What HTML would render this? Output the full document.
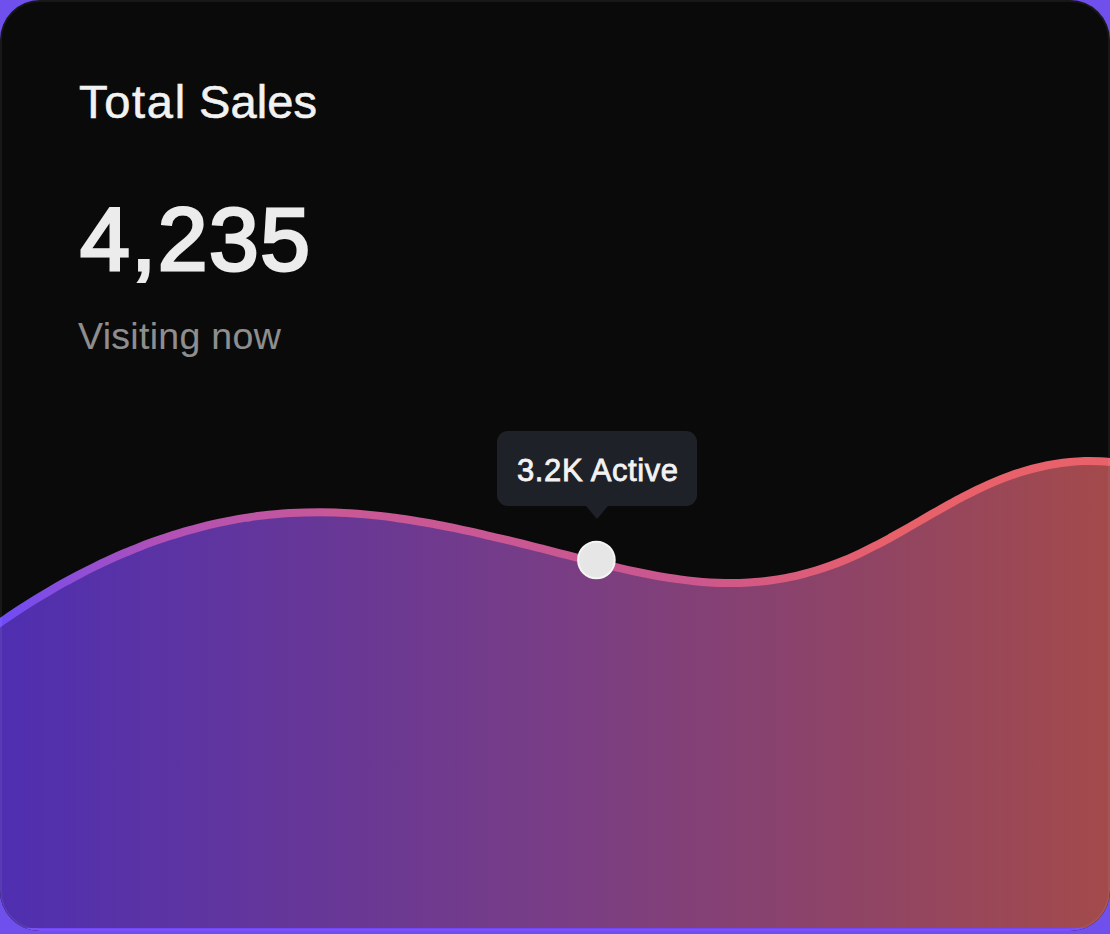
<!DOCTYPE html>
<html><head><meta charset="utf-8">
<style>
html,body{margin:0;padding:0;}
body{width:1110px;height:934px;background:#7050ed;overflow:hidden;position:relative;font-family:"Liberation Sans",sans-serif;}
.card{position:absolute;left:0;top:0;width:1110px;height:931px;border-radius:40px;background:#0a0a0a;overflow:hidden;}
.band{position:absolute;left:0;top:927.7px;width:1110px;height:4px;background:#7348f8;}
.border{position:absolute;left:0;top:0;width:1110px;height:931px;border-radius:40px;box-sizing:border-box;border:2.5px solid rgba(255,255,255,0.06);}
svg{position:absolute;left:0;top:0;}
.t1{position:absolute;left:79px;top:78px;font-size:47px;letter-spacing:1.7px;color:#f2f2f2;white-space:nowrap;line-height:1;-webkit-text-stroke:0.6px #f2f2f2;}
.t2{position:absolute;left:80px;top:195px;font-size:89.5px;letter-spacing:1.5px;color:#ececec;white-space:nowrap;line-height:1;-webkit-text-stroke:3px #ececec;}
.t3{position:absolute;left:78px;top:318px;font-size:37.5px;letter-spacing:0.3px;color:#8e8e8e;white-space:nowrap;line-height:1;-webkit-text-stroke:0.1px #8e8e8e;}
.tip{position:absolute;left:496.5px;top:431px;width:200.5px;height:75px;border-radius:11px;background:#1f2128;}
.tip:after{content:"";position:absolute;left:89.5px;top:74.5px;width:0;height:0;border-left:11.7px solid transparent;border-right:11.7px solid transparent;border-top:13px solid #1f2128;}
.tt{position:absolute;left:517px;top:455px;font-size:31px;letter-spacing:0.6px;color:#f2f2f2;white-space:nowrap;line-height:1;-webkit-text-stroke:0.8px #f2f2f2;}
</style></head><body>
<div class="card">
<svg width="1110" height="927.7" viewBox="0 0 1110 927.7">
<defs>
<linearGradient id="fg" x1="0" y1="0" x2="1110" y2="0" gradientUnits="userSpaceOnUse">
<stop offset="0" stop-color="#4f2fb0"/>
<stop offset="0.5" stop-color="#783d85"/>
<stop offset="1" stop-color="#a34a4b"/>
</linearGradient>
<linearGradient id="sg" x1="0" y1="0" x2="1110" y2="0" gradientUnits="userSpaceOnUse">
<stop offset="0" stop-color="#6e4cf6"/>
<stop offset="0.14" stop-color="#b050b8"/>
<stop offset="0.3" stop-color="#c95896"/>
<stop offset="0.62" stop-color="#cb578f"/>
<stop offset="0.8" stop-color="#e8606a"/>
<stop offset="1" stop-color="#e9626a"/>
</linearGradient>
</defs>
<path d="M-10.0,629.8 C-7.5,628.0 0.0,622.7 5.0,619.3 C10.0,615.8 15.0,612.5 20.0,609.2 C25.0,606.0 30.0,602.8 35.0,599.7 C40.0,596.6 45.0,593.6 50.0,590.7 C55.0,587.7 60.0,584.9 65.0,582.1 C70.0,579.3 75.0,576.7 80.0,574.1 C85.0,571.4 90.0,568.9 95.0,566.5 C100.0,564.0 105.0,561.7 110.0,559.4 C115.0,557.1 120.0,554.9 125.0,552.8 C130.0,550.7 135.0,548.7 140.0,546.7 C145.0,544.8 150.0,542.9 155.0,541.1 C160.0,539.4 165.0,537.7 170.0,536.0 C175.0,534.4 180.0,532.9 185.0,531.4 C190.0,530.0 195.0,528.6 200.0,527.3 C205.0,526.0 210.0,524.8 215.0,523.7 C220.0,522.6 225.0,521.5 230.0,520.6 C235.0,519.6 240.0,518.7 245.0,517.9 C250.0,517.2 255.0,516.4 260.0,515.8 C265.0,515.2 270.0,514.6 275.0,514.2 C280.0,513.7 285.0,513.3 290.0,513.0 C295.0,512.7 300.0,512.5 305.0,512.4 C310.0,512.2 315.0,512.2 320.0,512.2 C325.0,512.2 330.0,512.3 335.0,512.5 C340.0,512.7 345.0,512.9 350.0,513.2 C355.0,513.5 360.0,513.9 365.0,514.4 C370.0,514.8 375.0,515.3 380.0,515.9 C385.0,516.5 390.0,517.1 395.0,517.8 C400.0,518.5 405.0,519.2 410.0,520.0 C415.0,520.8 420.0,521.6 425.0,522.5 C430.0,523.4 435.0,524.3 440.0,525.3 C445.0,526.2 450.0,527.2 455.0,528.2 C460.0,529.3 465.0,530.3 470.0,531.4 C475.0,532.5 480.0,533.6 485.0,534.8 C490.0,535.9 495.0,537.1 500.0,538.3 C505.0,539.5 510.0,540.7 515.0,541.9 C520.0,543.1 525.0,544.4 530.0,545.6 C535.0,546.9 540.0,548.2 545.0,549.4 C550.0,550.7 555.0,552.0 560.0,553.3 C565.0,554.6 570.0,555.9 575.0,557.2 C580.0,558.4 585.0,559.7 590.0,561.0 C595.0,562.2 600.0,563.5 605.0,564.7 C610.0,565.9 615.0,567.1 620.0,568.2 C625.0,569.4 630.0,570.5 635.0,571.5 C640.0,572.6 645.0,573.6 650.0,574.5 C655.0,575.5 660.0,576.4 665.0,577.2 C670.0,578.0 675.0,578.8 680.0,579.4 C685.0,580.1 690.0,580.7 695.0,581.2 C700.0,581.7 705.0,582.1 710.0,582.4 C715.0,582.7 720.0,582.9 725.0,583.0 C730.0,583.1 735.0,583.0 740.0,582.9 C745.0,582.7 750.0,582.5 755.0,582.1 C760.0,581.7 765.0,581.1 770.0,580.5 C775.0,579.8 780.0,579.0 785.0,578.1 C790.0,577.1 795.0,576.1 800.0,574.9 C805.0,573.6 810.0,572.3 815.0,570.8 C820.0,569.3 825.0,567.6 830.0,565.8 C835.0,564.0 840.0,562.1 845.0,560.0 C850.0,557.9 855.0,555.6 860.0,553.3 C865.0,550.9 870.0,548.4 875.0,545.8 C880.0,543.3 885.0,540.6 890.0,537.9 C895.0,535.1 900.0,532.3 905.0,529.5 C910.0,526.7 915.0,523.8 920.0,520.9 C925.0,518.0 930.0,515.1 935.0,512.3 C940.0,509.4 945.0,506.6 950.0,503.8 C955.0,501.1 960.0,498.3 965.0,495.8 C970.0,493.2 975.0,490.6 980.0,488.3 C985.0,485.9 990.0,483.7 995.0,481.6 C1000.0,479.5 1005.0,477.6 1010.0,475.8 C1015.0,474.0 1020.0,472.4 1025.0,470.9 C1030.0,469.4 1035.0,468.1 1040.0,467.0 C1045.0,465.8 1050.0,464.8 1055.0,464.0 C1060.0,463.2 1065.0,462.5 1070.0,462.0 C1075.0,461.6 1080.0,461.3 1085.0,461.1 C1090.0,461.0 1095.0,461.1 1100.0,461.3 C1105.0,461.6 1110.0,462.0 1115.0,462.6 C1120.0,463.2 1127.5,464.6 1130.0,465.0 L1130,940 L-10,940 Z" fill="url(#fg)"/>
<path d="M-10.0,629.8 C-7.5,628.0 0.0,622.7 5.0,619.3 C10.0,615.8 15.0,612.5 20.0,609.2 C25.0,606.0 30.0,602.8 35.0,599.7 C40.0,596.6 45.0,593.6 50.0,590.7 C55.0,587.7 60.0,584.9 65.0,582.1 C70.0,579.3 75.0,576.7 80.0,574.1 C85.0,571.4 90.0,568.9 95.0,566.5 C100.0,564.0 105.0,561.7 110.0,559.4 C115.0,557.1 120.0,554.9 125.0,552.8 C130.0,550.7 135.0,548.7 140.0,546.7 C145.0,544.8 150.0,542.9 155.0,541.1 C160.0,539.4 165.0,537.7 170.0,536.0 C175.0,534.4 180.0,532.9 185.0,531.4 C190.0,530.0 195.0,528.6 200.0,527.3 C205.0,526.0 210.0,524.8 215.0,523.7 C220.0,522.6 225.0,521.5 230.0,520.6 C235.0,519.6 240.0,518.7 245.0,517.9 C250.0,517.2 255.0,516.4 260.0,515.8 C265.0,515.2 270.0,514.6 275.0,514.2 C280.0,513.7 285.0,513.3 290.0,513.0 C295.0,512.7 300.0,512.5 305.0,512.4 C310.0,512.2 315.0,512.2 320.0,512.2 C325.0,512.2 330.0,512.3 335.0,512.5 C340.0,512.7 345.0,512.9 350.0,513.2 C355.0,513.5 360.0,513.9 365.0,514.4 C370.0,514.8 375.0,515.3 380.0,515.9 C385.0,516.5 390.0,517.1 395.0,517.8 C400.0,518.5 405.0,519.2 410.0,520.0 C415.0,520.8 420.0,521.6 425.0,522.5 C430.0,523.4 435.0,524.3 440.0,525.3 C445.0,526.2 450.0,527.2 455.0,528.2 C460.0,529.3 465.0,530.3 470.0,531.4 C475.0,532.5 480.0,533.6 485.0,534.8 C490.0,535.9 495.0,537.1 500.0,538.3 C505.0,539.5 510.0,540.7 515.0,541.9 C520.0,543.1 525.0,544.4 530.0,545.6 C535.0,546.9 540.0,548.2 545.0,549.4 C550.0,550.7 555.0,552.0 560.0,553.3 C565.0,554.6 570.0,555.9 575.0,557.2 C580.0,558.4 585.0,559.7 590.0,561.0 C595.0,562.2 600.0,563.5 605.0,564.7 C610.0,565.9 615.0,567.1 620.0,568.2 C625.0,569.4 630.0,570.5 635.0,571.5 C640.0,572.6 645.0,573.6 650.0,574.5 C655.0,575.5 660.0,576.4 665.0,577.2 C670.0,578.0 675.0,578.8 680.0,579.4 C685.0,580.1 690.0,580.7 695.0,581.2 C700.0,581.7 705.0,582.1 710.0,582.4 C715.0,582.7 720.0,582.9 725.0,583.0 C730.0,583.1 735.0,583.0 740.0,582.9 C745.0,582.7 750.0,582.5 755.0,582.1 C760.0,581.7 765.0,581.1 770.0,580.5 C775.0,579.8 780.0,579.0 785.0,578.1 C790.0,577.1 795.0,576.1 800.0,574.9 C805.0,573.6 810.0,572.3 815.0,570.8 C820.0,569.3 825.0,567.6 830.0,565.8 C835.0,564.0 840.0,562.1 845.0,560.0 C850.0,557.9 855.0,555.6 860.0,553.3 C865.0,550.9 870.0,548.4 875.0,545.8 C880.0,543.3 885.0,540.6 890.0,537.9 C895.0,535.1 900.0,532.3 905.0,529.5 C910.0,526.7 915.0,523.8 920.0,520.9 C925.0,518.0 930.0,515.1 935.0,512.3 C940.0,509.4 945.0,506.6 950.0,503.8 C955.0,501.1 960.0,498.3 965.0,495.8 C970.0,493.2 975.0,490.6 980.0,488.3 C985.0,485.9 990.0,483.7 995.0,481.6 C1000.0,479.5 1005.0,477.6 1010.0,475.8 C1015.0,474.0 1020.0,472.4 1025.0,470.9 C1030.0,469.4 1035.0,468.1 1040.0,467.0 C1045.0,465.8 1050.0,464.8 1055.0,464.0 C1060.0,463.2 1065.0,462.5 1070.0,462.0 C1075.0,461.6 1080.0,461.3 1085.0,461.1 C1090.0,461.0 1095.0,461.1 1100.0,461.3 C1105.0,461.6 1110.0,462.0 1115.0,462.6 C1120.0,463.2 1127.5,464.6 1130.0,465.0" fill="none" stroke="url(#sg)" stroke-width="8"/>
<circle cx="596.4" cy="560" r="18.3" fill="#e6e6e6" stroke="#f4f4f4" stroke-width="2"/>
</svg>
<div class="band"></div>
<div class="t1">Total</div><div class="t1" style="left:199px;letter-spacing:0.1px">Sales</div>
<div class="t2">4,235</div>
<div class="t3">Visiting now</div>
<div class="tip"></div>
<div class="tt">3.2K Active</div>
</div>
<div class="border"></div>
</body></html>
